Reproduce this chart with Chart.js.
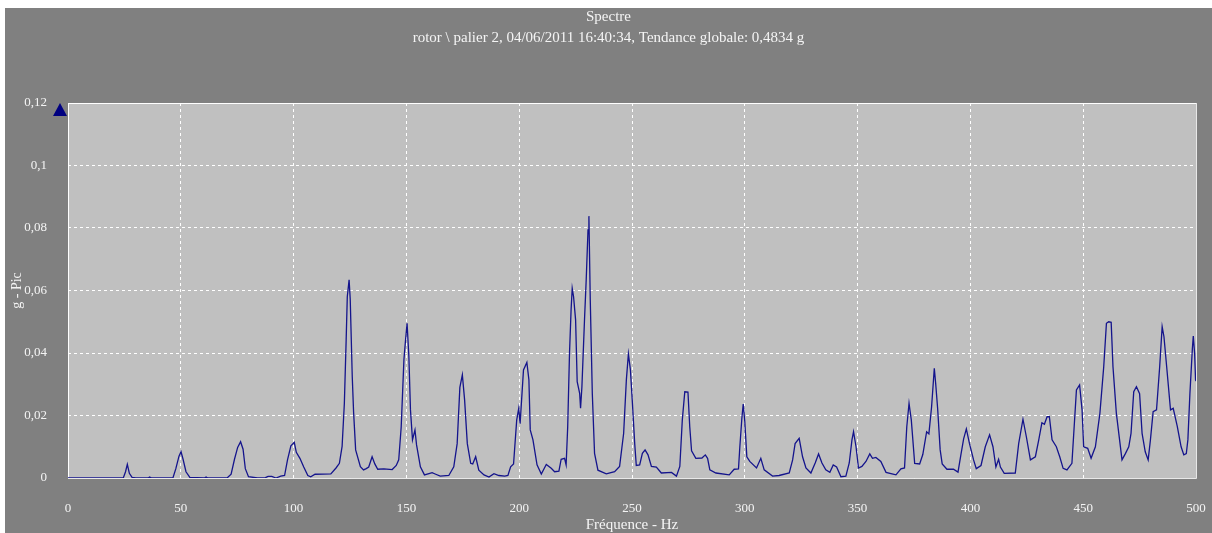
<!DOCTYPE html>
<html>
<head>
<meta charset="utf-8">
<script src="https://cdn.jsdelivr.net/npm/chart.js@4/dist/chart.umd.min.js"></script>
<style>
  html, body { margin: 0; padding: 0; background: #fff; overflow: hidden; }
  #wrap { position: relative; width: 1212px; height: 540px; }
</style>
</head>
<body>
<div id="wrap"><canvas id="spectre"></canvas></div>
<script>
// texts
const titleLines = ['Spectre', 'rotor \\ palier 2, 04/06/2011 16:40:34, Tendance globale: 0,4834 g']
const xTitle = 'Fréquence - Hz'
const yTitle = 'g - Pic'

// ticks
const xTicks = [0, 50, 100, 150, 200, 250, 300, 350, 400, 450, 500]
const yTickLabels = ['0', '0,02', '0,04', '0,06', '0,08', '0,1', '0,12']

// spectrum (Hz / g)
const freqHz = [
  0, 24.5, 25.5, 26.3, 27.2, 28.4, 30, 35.5, 36.2, 37, 46.5, 47.8, 49.2, 50.1, 51, 52.3, 54,
  60.5, 61.2, 62, 70.5, 72.3, 73.8, 75.2, 76.5, 77.6, 78.6, 80, 84, 87.5, 88.7, 90.3, 92.2, 94.3,
  96, 97.3, 98.8, 100.3, 101.2, 102.8, 104.5, 106.3, 107.6, 109.5, 116.5, 118.8, 120.3, 121.5,
  122.5, 123.3, 123.8, 124.6, 125.1, 126, 126.6, 127.5, 129.6, 131, 132.2, 133.3, 134.8, 136,
  137.3, 140, 143.7, 145.5, 146.6, 147.7, 148.9, 149.6, 150.3, 151.1, 151.8, 152.7, 153.8, 154.5,
  156.2, 158, 160, 161.4, 163, 165, 168.8, 171, 172.5, 173.7, 174.8, 175.8, 177, 178.5, 179.4,
  180.7, 182.1, 184.4, 186.6, 188.8, 191, 193.6, 195, 196.2, 197.5, 198.9, 199.8, 200.4, 201.9,
  203.4, 204.3, 204.9, 206.1, 207.9, 209.8, 212, 214.2, 215.7, 217.6, 218.6, 220.1, 220.8, 221.5,
  222.3, 223, 223.5, 224.1, 225, 225.7, 226.8, 227.2, 227.8, 229, 229.7, 230.5, 230.9, 231.5,
  232.4, 233.4, 234.9, 238.6, 242.3, 244.5, 246.3, 247.5, 248.4, 249.3, 250.1, 251.2, 251.9,
  253.4, 254.6, 255.8, 257.1, 258.6, 260.8, 263, 267.5, 269.7, 271.2, 272.3, 273.4, 274.8, 275.6,
  276.4, 278.3, 281, 282.5, 283.5, 284.5, 287.2, 293.1, 295.3, 297.2, 297.8, 298.7, 299.3, 300,
  300.9, 302.2, 305.2, 307.1, 308.6, 312.3, 315.2, 319.7, 321.2, 322.3, 324.1, 325.6, 327.1,
  329.3, 331.2, 332.7, 334.2, 335.9, 337.7, 339.2, 340.7, 342.6, 344.8, 346.3, 347.5, 348.2,
  349.3, 350.4, 351.9, 353.7, 355.4, 356.6, 358.1, 360.3, 362.6, 367, 369.2, 370.8, 371.8, 372.8,
  373.8, 375.3, 377.5, 378.9, 380.6, 381.6, 382.8, 384, 384.6, 385.5, 386.6, 387.5, 389.6, 392.5,
  394.5, 395.8, 397, 398.2, 399.6, 401.4, 402.6, 404.7, 406.6, 408.5, 410, 411.3, 412.5, 413.3,
  415, 419.9, 421.4, 423.3, 424.8, 426.6, 428.8, 430.3, 431.7, 432.8, 434, 435, 436.2, 438.1,
  439.6, 441.1, 442.8, 445, 447, 448.4, 449.5, 450.2, 452, 453.5, 455.4, 457.4, 459.1, 460.3,
  461.3, 462.4, 463.2, 464.7, 467.2, 468.7, 470.2, 471.2, 472.4, 473.6, 475, 476.1, 477.5, 478.8,
  479.8, 481, 482.5, 483.9, 485, 485.8, 487, 488.7, 489.9, 491.7, 493.4, 494.6, 495.7, 496.4,
  497.3, 498.4, 498.8, 499.4, 499.8, 500
]
const amplitudeG = [
  0, 0, 0.002, 0.0044, 0.0015, 0.0002, 0, 0, 0.0003, 0, 0, 0.003, 0.007, 0.0084, 0.006, 0.002, 0.0002,
  0, 0.0003, 0, 0, 0.0012, 0.006, 0.0098, 0.0116, 0.0092, 0.003, 0.0004, 0, 0.0001, 0.0005, 0.0005, 0, 0.0006,
  0.0008, 0.0058, 0.0103, 0.0114, 0.0082, 0.0063, 0.0035, 0.0008, 0.0004, 0.0012, 0.0013, 0.0032, 0.0047, 0.0101,
  0.0239, 0.0442, 0.058, 0.0634, 0.0572, 0.0324, 0.021, 0.009, 0.0036, 0.0026, 0.003, 0.0035, 0.0068, 0.0045,
  0.0028, 0.0029, 0.0027, 0.004, 0.0058, 0.0164, 0.0378, 0.044, 0.0495, 0.0388, 0.0218, 0.0122, 0.0154, 0.0106,
  0.0036, 0.001, 0.0014, 0.0017, 0.0012, 0.0006, 0.0008, 0.0036, 0.011, 0.029, 0.033, 0.025, 0.011, 0.0047, 0.0045,
  0.0068, 0.0025, 0.001, 0.0003, 0.0014, 0.0008, 0.0006, 0.0008, 0.0036, 0.0045, 0.0186, 0.0223, 0.0174, 0.0346,
  0.037, 0.0314, 0.0154, 0.0122, 0.0042, 0.0013, 0.0043, 0.0031, 0.002, 0.0022, 0.006, 0.0063, 0.0042, 0.0164,
  0.0399, 0.0538, 0.0607, 0.058, 0.0506, 0.0308, 0.0271, 0.0223, 0.0292, 0.0516, 0.0634, 0.0794, 0.0838, 0.057,
  0.0271, 0.0079, 0.0025, 0.0013, 0.002, 0.0037, 0.0143, 0.0314, 0.0397, 0.0346, 0.025, 0.011, 0.004,
  0.0042, 0.0079, 0.009, 0.0074, 0.0037, 0.0035, 0.0016, 0.0018, 0.0006, 0.0037, 0.0186, 0.0276, 0.0275, 0.0164,
  0.0087, 0.0063, 0.0064, 0.0074, 0.0063, 0.0026, 0.0016, 0.001, 0.0028, 0.0029, 0.01, 0.0191, 0.0237, 0.018,
  0.0068, 0.0053, 0.0032, 0.0063, 0.0026, 0.0006, 0.0008, 0.0016, 0.0058, 0.011, 0.0127, 0.0068, 0.0032,
  0.0016, 0.0048, 0.0077, 0.0048, 0.0026, 0.0018, 0.0042, 0.0035, 0.0004, 0.0006, 0.0048, 0.0122, 0.0148,
  0.01, 0.0032, 0.0037, 0.0053, 0.0077, 0.0063, 0.0066, 0.0053, 0.0018, 0.001, 0.0029, 0.0032, 0.0164, 0.0239,
  0.0186, 0.0047, 0.0045, 0.0075, 0.0148, 0.0141, 0.0228, 0.0351, 0.0303, 0.022, 0.009, 0.0045, 0.0028, 0.0028,
  0.0019, 0.0075, 0.0125, 0.0157, 0.011, 0.0058, 0.003, 0.004, 0.01, 0.0138, 0.01, 0.0035, 0.006, 0.0035,
  0.0015, 0.0016, 0.011, 0.0188, 0.0132, 0.0058, 0.0068, 0.0122, 0.0177, 0.0172, 0.0196, 0.0196, 0.0122, 0.01,
  0.0068, 0.0031, 0.0026, 0.0047, 0.0282, 0.0298, 0.0218, 0.01, 0.0095, 0.0063, 0.01, 0.0207, 0.0356, 0.0495,
  0.05, 0.0498, 0.0356, 0.0207, 0.0058, 0.0078, 0.01, 0.0143, 0.0276, 0.0292, 0.027, 0.0143, 0.0084, 0.0058,
  0.0122, 0.0212, 0.0218, 0.0356, 0.0484, 0.0452, 0.0356, 0.0218, 0.0223, 0.0165, 0.01, 0.0074, 0.0078, 0.0122,
  0.027, 0.0415, 0.0454, 0.0398, 0.0314, 0.031
]

const textColor = '#f4f4f4'
const font = { family: 'Liberation Serif', size: 13 }
const titleFont = { family: 'Liberation Serif', size: 15 }

// gray page, plot panel, border and the cursor marker
const frame = {
  id: 'frame',
  beforeDraw(chart) {
    const { ctx, width, height, chartArea: a } = chart
    ctx.save()
    ctx.fillStyle = '#ffffff'
    ctx.fillRect(0, 0, width, height)
    ctx.fillStyle = '#808080'
    ctx.fillRect(5, 8, width - 5, height - 8)
    ctx.fillStyle = '#c0c0c0'
    ctx.fillRect(a.left, a.top, a.right - a.left, a.bottom - a.top)
    ctx.restore()
  },
  beforeDatasetsDraw(chart) {
    const { ctx, chartArea: a } = chart
    ctx.save()
    ctx.lineWidth = 1
    ctx.strokeStyle = '#e8e8e8'
    ctx.beginPath()
    ctx.moveTo(a.left, a.bottom + 0.5)
    ctx.lineTo(a.right + 0.5, a.bottom + 0.5)
    ctx.lineTo(a.right + 0.5, a.top)
    ctx.stroke()
    ctx.strokeStyle = '#ffffff'
    ctx.beginPath()
    ctx.moveTo(a.left + 0.5, a.bottom)
    ctx.lineTo(a.left + 0.5, a.top + 0.5)
    ctx.lineTo(a.right, a.top + 0.5)
    ctx.stroke()
    // triangle marker
    ctx.fillStyle = '#000080'
    ctx.beginPath()
    ctx.moveTo(a.left - 8, a.top)
    ctx.lineTo(a.left - 15, a.top + 13)
    ctx.lineTo(a.left - 1, a.top + 13)
    ctx.closePath()
    ctx.fill()
    ctx.restore()
  }
}

new Chart(document.getElementById('spectre'), {
  type: 'scatter',
  data: {
    datasets: [{
      data: freqHz.map((f, i) => ({ x: f, y: amplitudeG[i] })),
      showLine: true,
      borderColor: '#14148c',
      borderWidth: 1.3,
      pointRadius: 0,
      tension: 0
    }]
  },
  options: {
    responsive: true,
    maintainAspectRatio: false,
    animation: false,
    layout: { padding: { left: 5, right: 0, top: 0, bottom: 6 } },
    plugins: {
      legend: { display: false },
      tooltip: { enabled: false },
      title: {
        display: true,
        text: titleLines,
        color: textColor,
        font: { family: titleFont.family, size: titleFont.size, weight: 'normal', lineHeight: 21 / 15 },
        padding: { top: 6.5, bottom: 54.5 }
      }
    },
    scales: {
      x: {
        type: 'linear',
        min: 0,
        max: 500,
        grid: { color: '#ffffff', lineWidth: 1, drawTicks: false },
        border: { display: false, dash: [3, 3] },
        afterBuildTicks: (scale) => { scale.ticks = xTicks.map(v => ({ value: v })) },
        afterFit: (scale) => {
          scale.height = 56
          scale.paddingLeft = 0
          scale.paddingRight = 16
        },
        ticks: { color: textColor, font: font, padding: 23, maxRotation: 0 },
        title: { display: true, text: xTitle, color: textColor, font: titleFont, padding: { top: 0, bottom: 0 } }
      },
      y: {
        min: 0,
        max: 0.12,
        grid: { color: '#ffffff', lineWidth: 1, drawTicks: false },
        border: { display: false, dash: [3, 3] },
        afterFit: (scale) => { scale.width = 63 },
        ticks: {
          stepSize: 0.02,
          color: textColor,
          font: font,
          padding: 21,
          callback: (value, index) => yTickLabels[index]
        },
        title: { display: true, text: yTitle, color: textColor, font: { family: 'Liberation Serif', size: 14 }, padding: { top: 4, bottom: 0 } }
      }
    }
  },
  plugins: [frame]
})
</script>
</body>
</html>
